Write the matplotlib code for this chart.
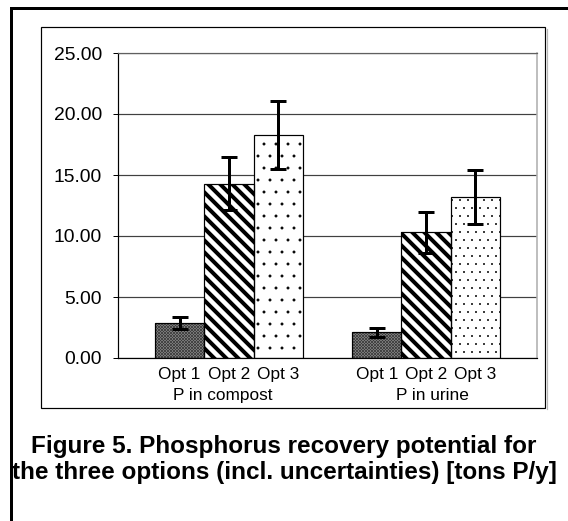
import matplotlib
matplotlib.use("Agg")
import matplotlib.pyplot as plt
from matplotlib.patches import Rectangle
from matplotlib.lines import Line2D
import numpy as np

# values
groups = ["P in compost", "P in urine"]
options = ["Opt 1", "Opt 2", "Opt 3"]
compost = [2.9, 14.3, 18.3]
compost_err = [0.5, 2.2, 2.8]
urine = [2.1, 10.3, 13.2]
urine_err = [0.4, 1.7, 2.2]
yticks = [0, 5, 10, 15, 20, 25]

# look of each option: (face, hatch colour, hatch pattern per group, hatch width)
styles = [
    ("#8e8e8e", "#3a3a3a", ["x" * 16, "x" * 16], 0.35),
    ("white", "black", ["\\" * 4, "\\" * 4], 2.0),
    ("white", "black", ["..", "..."], 0.2),
]

DPI = 144
W, H = 568, 521
plt.rcParams["font.family"] = ["Liberation Sans", "DejaVu Sans"]

fig = plt.figure(figsize=(W / DPI, H / DPI), dpi=DPI)


def fx(px):
    return px / W


def fy(py):
    return 1 - py / H


# outer frame (runs off the right and bottom of the picture)
fig.patches.append(Rectangle((fx(11), fy(560)), 1.2, fy(7.5) - fy(560), fill=False,
                             lw=1.5, ec="black", transform=fig.transFigure, figure=fig))
# chart area box with a light shadow on the right
fig.patches.append(Rectangle((fx(40.5), fy(408)), fx(545) - fx(40.5), fy(27) - fy(408),
                             fill=False, lw=0.6, ec="black", transform=fig.transFigure, figure=fig))
fig.lines.append(Line2D([fx(546.5), fx(546.5)], [fy(28.5), fy(409)], lw=0.6, color="#b8b8b8",
                        transform=fig.transFigure, figure=fig))

ax = fig.add_axes([fx(118), fy(358), fx(537) - fx(118), fy(53) - fy(358)])

series = [(compost, compost_err), (urine, urine_err)]
for g, (vals, errs) in enumerate(series):
    for i, (v, e) in enumerate(zip(vals, errs)):
        x = g * 4 + i
        face, hcol, hatches, hlw = styles[i]
        plt.rcParams["hatch.linewidth"] = hlw
        b = ax.bar(x, v, width=1.0, color=face, edgecolor=hcol, hatch=hatches[g], lw=0, zorder=2)
        for p in b:
            if hasattr(p, "set_hatch_linewidth"):
                p.set_hatch_linewidth(hlw)
        ax.bar(x, v, width=1.0, fill=False, edgecolor="black", lw=0.6, zorder=3)
        ax.errorbar(x, v, yerr=e, fmt="none", ecolor="black", elinewidth=1.5,
                    capsize=4, capthick=1.5, zorder=4)

ax.set_xlim(-1.25, 7.25)
ax.set_ylim(0, 25)
ax.set_yticks(yticks)
ax.set_yticklabels(["%.2f" % t for t in yticks], fontsize=9.6)
ax.tick_params(axis="y", direction="out", length=2.5, width=0.5, pad=5.5)

ax.set_xticks([0, 1, 2, 4, 5, 6])
ax.set_xticklabels(options * 2, fontsize=8.6)
ax.tick_params(axis="x", length=0, pad=4.5)

for k, name in enumerate(groups):
    ax.annotate(name, xy=(0.25 + 0.5 * k, 0), xycoords="axes fraction",
                xytext=(0, -15), textcoords="offset points",
                ha="center", va="top", fontsize=8.6)

ax.yaxis.grid(True, color="#404040", lw=0.6, zorder=0)
ax.set_axisbelow(True)
ax.spines["left"].set_linewidth(0.6)
ax.spines["bottom"].set_linewidth(0.6)
ax.spines["top"].set_color("#606060")
ax.spines["top"].set_linewidth(0.6)
ax.spines["right"].set_color("#b0b0b0")
ax.spines["right"].set_linewidth(0.8)

fig.text(0.5, fy(447), "Figure 5. Phosphorus recovery potential for",
         ha="center", va="center", fontsize=12.1, fontweight="bold")
fig.text(0.5, fy(472), "the three options (incl. uncertainties) [tons P/y]",
         ha="center", va="center", fontsize=12.1, fontweight="bold")

fig.savefig("out.png", dpi=DPI)
